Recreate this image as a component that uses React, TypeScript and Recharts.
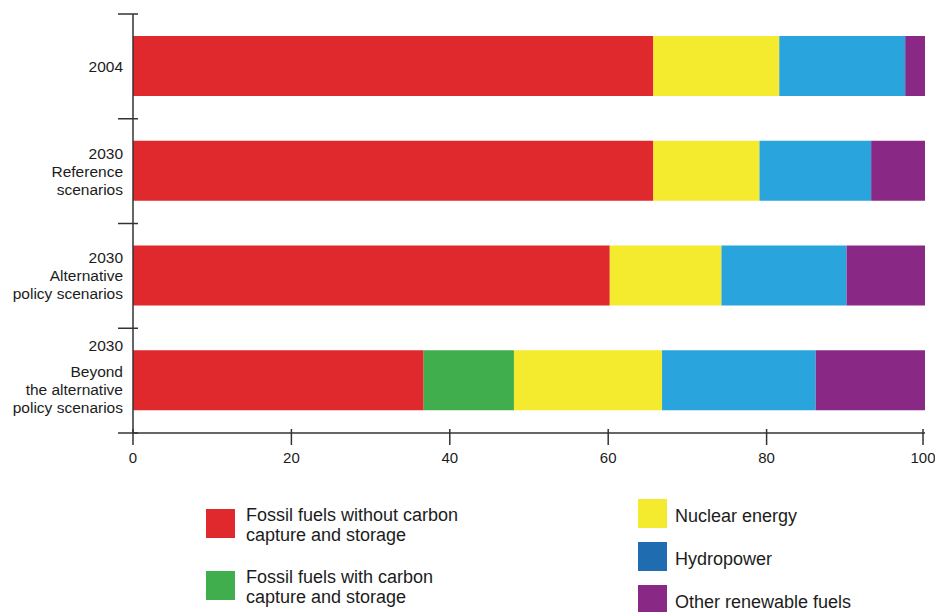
import { BarChart, Bar, XAxis, YAxis } from "recharts";

// Row labels, one entry per line of text, top row first.
const ROW_LABELS = [
  ["2004"],
  ["2030", "Reference", "scenarios"],
  ["2030", "Alternative", "policy scenarios"],
  ["2030", "Beyond", "the alternative", "policy scenarios"],
];

// Share of primary energy (%), same order as ROW_LABELS.
const FOSSIL_NO_CCS = [65.7, 65.7, 60.2, 36.7];
const FOSSIL_CCS = [0, 0, 0, 11.4];
const NUCLEAR = [15.9, 13.4, 14.1, 18.7];
const HYDRO = [15.9, 14.1, 15.8, 19.4];
const OTHER_RENEWABLE = [2.5, 6.8, 9.9, 13.8];

const X_TICKS = [0, 20, 40, 60, 80, 100];

const SERIES = [
  { key: "fossilNoCcs", values: FOSSIL_NO_CCS, fill: "#e0292c", swatch: "#e0292c" },
  { key: "fossilCcs", values: FOSSIL_CCS, fill: "#40ae4c", swatch: "#40ae4c" },
  { key: "nuclear", values: NUCLEAR, fill: "#f4eb2e", swatch: "#f4eb2e" },
  { key: "hydro", values: HYDRO, fill: "#29a4dd", swatch: "#1f6db0" },
  { key: "otherRenewable", values: OTHER_RENEWABLE, fill: "#8a2886", swatch: "#8a2886" },
];

const LEGEND_LEFT = [
  { key: "fossilNoCcs", lines: ["Fossil fuels without carbon", "capture and storage"] },
  { key: "fossilCcs", lines: ["Fossil fuels with carbon", "capture and storage"] },
];
const LEGEND_RIGHT = [
  { key: "nuclear", lines: ["Nuclear energy"] },
  { key: "hydro", lines: ["Hydropower"] },
  { key: "otherRenewable", lines: ["Other renewable fuels"] },
];

const data = ROW_LABELS.map((lines, i) => {
  const row: Record<string, string | number> = { name: lines.join(" ") };
  SERIES.forEach((s) => {
    row[s.key] = s.values[i];
  });
  return row;
});

const FONT = '"Liberation Sans", Arial, Helvetica, sans-serif';
const INK = "#1c1c1c";
const AXIS = "#333";
const LINE_H = 18;
const Y_TICK_MARGIN = 10;

function RowTick(props: any) {
  const { x, y, payload, index } = props;
  const lines = ROW_LABELS[index] ?? [String(payload.value)];
  const axisX = x + Y_TICK_MARGIN;
  const half = payload.offset ?? 52;
  const top = y - ((lines.length - 1) * LINE_H) / 2;
  const isLast = index === ROW_LABELS.length - 1;
  // long labels: the year sits a little apart from the description
  const lift = lines.length > 3 ? 8 : 0;
  return (
    <g>
      <line x1={axisX - 15} x2={axisX + 5} y1={y - half} y2={y - half} stroke={AXIS} strokeWidth={1.5} />
      {isLast && (
        <line x1={axisX - 15} x2={axisX + 5} y1={y + half} y2={y + half} stroke={AXIS} strokeWidth={1.5} />
      )}
      <text textAnchor="end" fontSize={15.5} fill={INK} fontFamily={FONT}>
        {lines.map((l, i) => (
          <tspan key={i} x={x} y={top + i * LINE_H - (i === 0 ? lift : 0)} dy="0.35em">
            {l}
          </tspan>
        ))}
      </text>
    </g>
  );
}

function ValueTick(props: any) {
  const { x, y, payload } = props;
  return (
    <g>
      <line x1={x} x2={x} y1={y - 4} y2={y + 12} stroke={AXIS} strokeWidth={1.5} />
      <text x={x} y={y + 30} textAnchor="middle" fontSize={15} fill={INK} fontFamily={FONT}>
        {payload.value}
      </text>
    </g>
  );
}

function LegendColumn({ items, left, top, gap, twoLine }: any) {
  return (
    <div style={{ position: "absolute", left, top, display: "flex", flexDirection: "column", gap }}>
      {items.map((item: any) => {
        const s = SERIES.find((x) => x.key === item.key)!;
        return (
          <div key={item.key} style={{ display: "flex", alignItems: "flex-start" }}>
            <div
              style={{
                width: 29,
                height: 29,
                background: s.swatch,
                marginTop: twoLine ? 4 : 0,
                flex: "none",
              }}
            />
            <div
              style={{
                marginLeft: twoLine ? 11 : 8,
                paddingTop: twoLine ? 0 : 7,
                fontSize: 18,
                lineHeight: "20px",
                color: INK,
                whiteSpace: "nowrap",
              }}
            >
              {item.lines.map((l: string) => (
                <div key={l}>{l}</div>
              ))}
            </div>
          </div>
        );
      })}
    </div>
  );
}

export default function App() {
  return (
    <div
      style={{
        position: "relative",
        width: 935,
        height: 612,
        background: "#fff",
        fontFamily: FONT,
        overflow: "hidden",
      }}
    >
      <style>{"body{margin:0}"}</style>
      <BarChart
        width={935}
        height={470}
        data={data}
        layout="vertical"
        margin={{ top: 14, right: 10, bottom: 0, left: 0 }}
        barSize={60}
      >
        <XAxis
          type="number"
          domain={[0, 100]}
          ticks={X_TICKS}
          height={37}
          tickSize={0}
          tickMargin={0}
          tickLine={false}
          axisLine={{ stroke: AXIS, strokeWidth: 1.5 }}
          tick={<ValueTick />}
        />
        <YAxis
          type="category"
          dataKey="name"
          width={133}
          tickSize={0}
          tickMargin={Y_TICK_MARGIN}
          tickLine={false}
          axisLine={{ stroke: AXIS, strokeWidth: 1.5 }}
          tick={<RowTick />}
          interval={0}
        />
        {SERIES.map((s) => (
          <Bar key={s.key} dataKey={s.key} stackId="mix" fill={s.fill} isAnimationActive={false} />
        ))}
      </BarChart>
      <LegendColumn items={LEGEND_LEFT} left={206} top={505} gap={22} twoLine />
      <LegendColumn items={LEGEND_RIGHT} left={638} top={499} gap={14} />
    </div>
  );
}
